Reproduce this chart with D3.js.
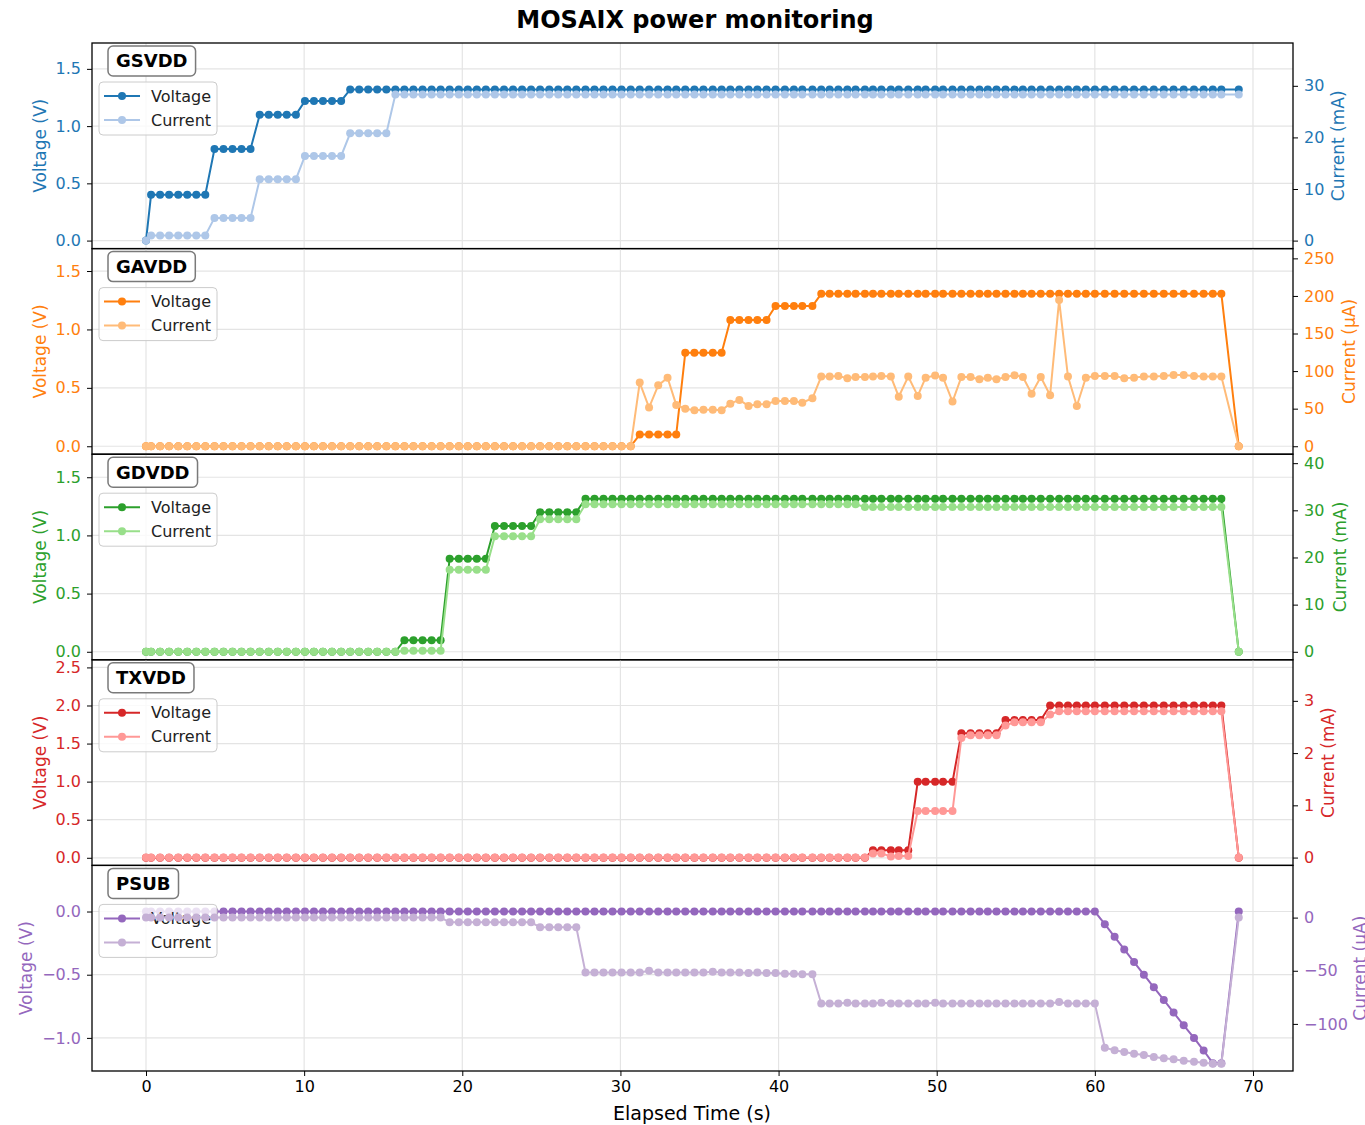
<!DOCTYPE html>
<html>
<head>
<meta charset="utf-8">
<script src="https://cdn.jsdelivr.net/npm/d3@7"></script>
<style>
  body { margin: 0; background: #fff; }
  svg { display: block; }
  text { font-family: "DejaVu Sans", sans-serif; }
</style>
</head>
<body>
<svg id="chart" width="1365" height="1125"></svg>
<script>
// Sample timestamps (s)
const times = [
  0, 0.32, 0.89, 1.46, 2.04, 2.61, 3.18, 3.75, 4.33, 4.90,
  5.47, 6.04, 6.61, 7.19, 7.76, 8.33, 8.90, 9.48, 10.05, 10.62,
  11.19, 11.76, 12.34, 12.91, 13.48, 14.05, 14.62, 15.20, 15.77, 16.34,
  16.91, 17.49, 18.06, 18.63, 19.20, 19.78, 20.35, 20.92, 21.49, 22.06,
  22.64, 23.21, 23.78, 24.35, 24.92, 25.50, 26.07, 26.64, 27.21, 27.79,
  28.36, 28.93, 29.50, 30.07, 30.65, 31.22, 31.81, 32.39, 32.98, 33.53,
  34.10, 34.68, 35.25, 35.84, 36.40, 36.95, 37.52, 38.10, 38.66, 39.24,
  39.81, 40.40, 40.97, 41.50, 42.14, 42.70, 43.23, 43.78, 44.35, 44.87,
  45.46, 45.97, 46.50, 47.10, 47.60, 48.20, 48.80, 49.30, 49.90, 50.40,
  51.00, 51.56, 52.14, 52.70, 53.23, 53.78, 54.35, 54.92, 55.45, 56.00,
  56.58, 57.17, 57.74, 58.30, 58.86, 59.43, 60.00, 60.63, 61.25, 61.86,
  62.48, 63.10, 63.73, 64.36, 64.98, 65.62, 66.27, 66.88, 67.46, 68.00,
  69.10
];

// GSVDD: voltage (V), current (mA)
const gsvddVoltage = [
  0, 0.4, 0.4, 0.4, 0.4, 0.4, 0.4, 0.4, 0.8, 0.8,
  0.8, 0.8, 0.8, 1.1, 1.1, 1.1, 1.1, 1.1, 1.22, 1.22,
  1.22, 1.22, 1.22, 1.32, 1.32, 1.32, 1.32, 1.32, 1.32, 1.32,
  1.32, 1.32, 1.32, 1.32, 1.32, 1.32, 1.32, 1.32, 1.32, 1.32,
  1.32, 1.32, 1.32, 1.32, 1.32, 1.32, 1.32, 1.32, 1.32, 1.32,
  1.32, 1.32, 1.32, 1.32, 1.32, 1.32, 1.32, 1.32, 1.32, 1.32,
  1.32, 1.32, 1.32, 1.32, 1.32, 1.32, 1.32, 1.32, 1.32, 1.32,
  1.32, 1.32, 1.32, 1.32, 1.32, 1.32, 1.32, 1.32, 1.32, 1.32,
  1.32, 1.32, 1.32, 1.32, 1.32, 1.32, 1.32, 1.32, 1.32, 1.32,
  1.32, 1.32, 1.32, 1.32, 1.32, 1.32, 1.32, 1.32, 1.32, 1.32,
  1.32, 1.32, 1.32, 1.32, 1.32, 1.32, 1.32, 1.32, 1.32, 1.32,
  1.32, 1.32, 1.32, 1.32, 1.32, 1.32, 1.32, 1.32, 1.32, 1.32,
  1.32
];
const gsvddCurrent = [
  0, 1.0, 1.0, 1.0, 1.0, 1.0, 1.0, 1.0, 4.4, 4.4,
  4.4, 4.4, 4.4, 11.9, 11.9, 11.9, 11.9, 11.9, 16.4, 16.4,
  16.4, 16.4, 16.4, 20.8, 20.8, 20.8, 20.8, 20.8, 28.3, 28.3,
  28.3, 28.3, 28.3, 28.3, 28.3, 28.3, 28.3, 28.3, 28.3, 28.3,
  28.3, 28.3, 28.3, 28.3, 28.3, 28.3, 28.3, 28.3, 28.3, 28.3,
  28.3, 28.3, 28.3, 28.3, 28.3, 28.3, 28.3, 28.3, 28.3, 28.3,
  28.3, 28.3, 28.3, 28.3, 28.3, 28.3, 28.3, 28.3, 28.3, 28.3,
  28.3, 28.3, 28.3, 28.3, 28.3, 28.3, 28.3, 28.3, 28.3, 28.3,
  28.3, 28.3, 28.3, 28.3, 28.3, 28.3, 28.3, 28.3, 28.3, 28.3,
  28.3, 28.3, 28.3, 28.3, 28.3, 28.3, 28.3, 28.3, 28.3, 28.3,
  28.3, 28.3, 28.3, 28.3, 28.3, 28.3, 28.3, 28.3, 28.3, 28.3,
  28.3, 28.3, 28.3, 28.3, 28.3, 28.3, 28.3, 28.3, 28.3, 28.3,
  28.3
];

// GAVDD: voltage (V), current (µA)
const gavddVoltage = [
  0, 0, 0, 0, 0, 0, 0, 0, 0, 0,
  0, 0, 0, 0, 0, 0, 0, 0, 0, 0,
  0, 0, 0, 0, 0, 0, 0, 0, 0, 0,
  0, 0, 0, 0, 0, 0, 0, 0, 0, 0,
  0, 0, 0, 0, 0, 0, 0, 0, 0, 0,
  0, 0, 0, 0, 0, 0.1, 0.1, 0.1, 0.1, 0.1,
  0.8, 0.8, 0.8, 0.8, 0.8, 1.08, 1.08, 1.08, 1.08, 1.08,
  1.2, 1.2, 1.2, 1.2, 1.2, 1.305, 1.305, 1.305, 1.305, 1.305,
  1.305, 1.305, 1.305, 1.305, 1.305, 1.305, 1.305, 1.305, 1.305, 1.305,
  1.305, 1.305, 1.305, 1.305, 1.305, 1.305, 1.305, 1.305, 1.305, 1.305,
  1.305, 1.305, 1.305, 1.305, 1.305, 1.305, 1.305, 1.305, 1.305, 1.305,
  1.305, 1.305, 1.305, 1.305, 1.305, 1.305, 1.305, 1.305, 1.305, 1.305,
  0
];
const gavddCurrent = [
  0, 0, 0, 0, 0, 0, 0, 0, 0, 0,
  0, 0, 0, 0, 0, 0, 0, 0, 0, 0,
  0, 0, 0, 0, 0, 0, 0, 0, 0, 0,
  0, 0, 0, 0, 0, 0, 0, 0, 0, 0,
  0, 0, 0, 0, 0, 0, 0, 0, 0, 0,
  0, 0, 0, 0, 0, 84.7, 51.4, 81.0, 91.3, 55.0,
  50.0, 48.0, 48.5, 48.5, 48.0, 56.7, 61.6, 53.6, 55.8, 55.8,
  60.3, 60.3, 60.3, 58.0, 63.8, 92.7, 92.7, 93.6, 90.5, 92.0,
  92.0, 92.7, 93.6, 92.7, 66.0, 92.7, 67.0, 91.3, 94.0, 91.3,
  59.4, 92.2, 92.2, 89.0, 91.0, 89.0, 92.2, 94.4, 92.2, 70.0,
  92.2, 68.0, 194.5, 92.7, 53.6, 91.3, 93.6, 93.6, 93.6, 90.5,
  91.3, 92.7, 92.7, 93.6, 94.9, 94.9, 93.6, 92.7, 92.7, 92.7,
  0
];

// GDVDD: voltage (V), current (mA)
const gdvddVoltage = [
  0, 0, 0, 0, 0, 0, 0, 0, 0, 0,
  0, 0, 0, 0, 0, 0, 0, 0, 0, 0,
  0, 0, 0, 0, 0, 0, 0, 0, 0, 0.1,
  0.1, 0.1, 0.1, 0.1, 0.8, 0.8, 0.8, 0.8, 0.8, 1.08,
  1.08, 1.08, 1.08, 1.08, 1.2, 1.2, 1.2, 1.2, 1.2, 1.316,
  1.316, 1.316, 1.316, 1.316, 1.316, 1.316, 1.316, 1.316, 1.316, 1.316,
  1.316, 1.316, 1.316, 1.316, 1.316, 1.316, 1.316, 1.316, 1.316, 1.316,
  1.316, 1.316, 1.316, 1.316, 1.316, 1.316, 1.316, 1.316, 1.316, 1.316,
  1.316, 1.316, 1.316, 1.316, 1.316, 1.316, 1.316, 1.316, 1.316, 1.316,
  1.316, 1.316, 1.316, 1.316, 1.316, 1.316, 1.316, 1.316, 1.316, 1.316,
  1.316, 1.316, 1.316, 1.316, 1.316, 1.316, 1.316, 1.316, 1.316, 1.316,
  1.316, 1.316, 1.316, 1.316, 1.316, 1.316, 1.316, 1.316, 1.316, 1.316,
  0
];
const gdvddCurrent = [
  0, 0, 0, 0, 0, 0, 0, 0, 0, 0,
  0, 0, 0, 0, 0, 0, 0, 0, 0, 0,
  0, 0, 0, 0, 0, 0, 0, 0, 0, 0.2,
  0.2, 0.2, 0.2, 0.2, 17.4, 17.4, 17.4, 17.4, 17.4, 24.5,
  24.5, 24.5, 24.5, 24.5, 28.1, 28.1, 28.1, 28.1, 28.1, 31.3,
  31.3, 31.3, 31.3, 31.3, 31.3, 31.3, 31.3, 31.3, 31.3, 31.3,
  31.3, 31.3, 31.3, 31.3, 31.3, 31.3, 31.3, 31.3, 31.3, 31.3,
  31.3, 31.3, 31.3, 31.3, 31.3, 31.3, 31.3, 31.3, 31.3, 31.3,
  30.7, 30.7, 30.7, 30.7, 30.7, 30.7, 30.7, 30.7, 30.7, 30.7,
  30.7, 30.7, 30.7, 30.7, 30.7, 30.7, 30.7, 30.7, 30.7, 30.7,
  30.7, 30.7, 30.7, 30.7, 30.7, 30.7, 30.7, 30.7, 30.7, 30.7,
  30.7, 30.7, 30.7, 30.7, 30.7, 30.7, 30.7, 30.7, 30.7, 30.7,
  0
];

// TXVDD: voltage (V), current (mA)
const txvddVoltage = [
  0, 0, 0, 0, 0, 0, 0, 0, 0, 0,
  0, 0, 0, 0, 0, 0, 0, 0, 0, 0,
  0, 0, 0, 0, 0, 0, 0, 0, 0, 0,
  0, 0, 0, 0, 0, 0, 0, 0, 0, 0,
  0, 0, 0, 0, 0, 0, 0, 0, 0, 0,
  0, 0, 0, 0, 0, 0, 0, 0, 0, 0,
  0, 0, 0, 0, 0, 0, 0, 0, 0, 0,
  0, 0, 0, 0, 0, 0, 0, 0, 0, 0,
  0, 0.1, 0.1, 0.1, 0.1, 0.1, 1.0, 1.0, 1.0, 1.0,
  1.0, 1.635, 1.635, 1.635, 1.635, 1.635, 1.81, 1.81, 1.81, 1.81,
  1.81, 2.0, 2.0, 2.0, 2.0, 2.0, 2.0, 2.0, 2.0, 2.0,
  2.0, 2.0, 2.0, 2.0, 2.0, 2.0, 2.0, 2.0, 2.0, 2.0,
  0
];
const txvddCurrent = [
  0, 0, 0, 0, 0, 0, 0, 0, 0, 0,
  0, 0, 0, 0, 0, 0, 0, 0, 0, 0,
  0, 0, 0, 0, 0, 0, 0, 0, 0, 0,
  0, 0, 0, 0, 0, 0, 0, 0, 0, 0,
  0, 0, 0, 0, 0, 0, 0, 0, 0, 0,
  0, 0, 0, 0, 0, 0, 0, 0, 0, 0,
  0, 0, 0, 0, 0, 0, 0, 0, 0, 0,
  0, 0, 0, 0, 0, 0, 0, 0, 0, 0,
  0, 0.08, 0.08, 0.02, 0.03, 0.03, 0.89, 0.89, 0.89, 0.89,
  0.89, 2.29, 2.34, 2.34, 2.34, 2.34, 2.53, 2.59, 2.59, 2.59,
  2.59, 2.74, 2.80, 2.80, 2.80, 2.80, 2.80, 2.80, 2.80, 2.80,
  2.80, 2.80, 2.80, 2.80, 2.80, 2.80, 2.80, 2.80, 2.80, 2.80,
  0
];

// PSUB: voltage (V), current (µA)
const psubVoltage = [
  0, 0, 0, 0, 0, 0, 0, 0, 0, 0,
  0, 0, 0, 0, 0, 0, 0, 0, 0, 0,
  0, 0, 0, 0, 0, 0, 0, 0, 0, 0,
  0, 0, 0, 0, 0, 0, 0, 0, 0, 0,
  0, 0, 0, 0, 0, 0, 0, 0, 0, 0,
  0, 0, 0, 0, 0, 0, 0, 0, 0, 0,
  0, 0, 0, 0, 0, 0, 0, 0, 0, 0,
  0, 0, 0, 0, 0, 0, 0, 0, 0, 0,
  0, 0, 0, 0, 0, 0, 0, 0, 0, 0,
  0, 0, 0, 0, 0, 0, 0, 0, 0, 0,
  0, 0, 0, 0, 0, 0, 0, -0.1, -0.2, -0.3,
  -0.4, -0.5, -0.6, -0.7, -0.8, -0.9, -1.0, -1.1, -1.2, -1.2,
  0
];
const psubCurrent = [
  0, 0, 0, 0, 0, 0, 0, 0, 0, 0,
  0, 0, 0, 0, 0, 0, 0, 0, 0, 0,
  0, 0, 0, 0, 0, 0, 0, 0, 0, 0,
  0, 0, 0, 0, -4.4, -4.4, -4.4, -4.4, -4.4, -4.4,
  -4.4, -4.4, -4.4, -4.4, -9.1, -9.1, -9.1, -9.1, -9.1, -51.6,
  -51.6, -51.6, -51.6, -51.6, -51.6, -51.6, -50.0, -51.6, -51.6, -51.6,
  -51.6, -51.6, -51.6, -51.0, -51.6, -51.6, -51.6, -52.2, -51.6, -52.2,
  -52.2, -52.8, -52.8, -53.2, -53.2, -80.8, -80.8, -80.8, -80.2, -80.8,
  -80.8, -80.8, -80.2, -80.8, -80.8, -80.8, -80.8, -80.8, -80.2, -80.8,
  -80.8, -80.8, -80.8, -80.8, -80.8, -80.8, -80.8, -80.8, -80.8, -80.8,
  -80.8, -80.8, -79.3, -80.8, -80.8, -80.8, -80.8, -122.4, -124.8, -126.4,
  -128.0, -129.2, -131.1, -132.3, -133.3, -134.6, -135.5, -136.5, -137.4, -137.4,
  0
];

// Rail names and axis tick values
const railNames = ["GSVDD", "GAVDD", "GDVDD", "TXVDD", "PSUB"];
const voltageTicks = [[0, 0.5, 1.0, 1.5], [0, 0.5, 1.0, 1.5], [0, 0.5, 1.0, 1.5], [0, 0.5, 1.0, 1.5, 2.0, 2.5], [-1.0, -0.5, 0]];
const currentTicks = [[0, 10, 20, 30], [0, 50, 100, 150, 200, 250], [0, 10, 20, 30, 40], [0, 1, 2, 3], [-100, -50, 0]];
const currentUnits = ["mA", "µA", "mA", "mA", "µA"];
const timeTicks = [0, 10, 20, 30, 40, 50, 60, 70];

const voltageSeries = [gsvddVoltage, gavddVoltage, gdvddVoltage, txvddVoltage, psubVoltage];
const currentSeries = [gsvddCurrent, gavddCurrent, gdvddCurrent, txvddCurrent, psubCurrent];

// Per-panel axis limits and styling
const voltageDomains = [[-0.07, 1.726], [-0.068, 1.692], [-0.069, 1.698], [-0.1, 2.6], [-1.262, 0.365]];
const currentDomains = [[-1.55, 38.3], [-10.6, 263], [-1.7, 41.9], [-0.15, 3.786], [-144.3, 49.1]];
const darkColors = ["#1f77b4", "#ff7f0e", "#2ca02c", "#d62728", "#9467bd"];
const lightColors = ["#aec7e8", "#ffbb78", "#98df8a", "#ff9896", "#c5b0d5"];
const leftLabelX = [40, 40, 40, 40, 26];
const rightLabelX = [1338, 1349, 1340, 1328, 1360];

const FONT = '"DejaVu Sans", sans-serif';
const DOT_R = 4;
const svg = d3.select("#chart");
const plotLeft = 92, plotRight = 1293, plotTop = 43, plotBottom = 1071;
const panelH = (plotBottom - plotTop) / railNames.length;

const x = d3.scaleLinear().domain([-3.415, 72.53]).range([plotLeft, plotRight]);

svg.append("rect").attr("width", 1365).attr("height", 1125).attr("fill", "#fff");

svg.append("text")
  .attr("x", 695).attr("y", 28)
  .attr("text-anchor", "middle")
  .attr("font-family", FONT).attr("font-weight", "bold").attr("font-size", 24)
  .attr("fill", "#000")
  .text("MOSAIX power monitoring");

const fmtV = d3.format(".1f");
const fmtI = d3.format("d");

railNames.forEach((name, p) => {
  const y0 = plotTop + p * panelH;
  const y1 = y0 + panelH;
  const dark = darkColors[p], light = lightColors[p];
  const yV = d3.scaleLinear().domain(voltageDomains[p]).range([y1, y0]);
  const yI = d3.scaleLinear().domain(currentDomains[p]).range([y1, y0]);
  const g = svg.append("g");

  const clipId = "clip-" + p;
  svg.append("clipPath").attr("id", clipId)
    .append("rect").attr("x", plotLeft).attr("y", y0)
    .attr("width", plotRight - plotLeft).attr("height", panelH);

  // grid
  const grid = g.append("g").attr("clip-path", `url(#${clipId})`);
  grid.selectAll(".vg").data(timeTicks).join("line")
    .attr("x1", d => x(d)).attr("x2", d => x(d))
    .attr("y1", y0).attr("y2", y1)
    .attr("stroke", "#e4e4e4").attr("stroke-width", 1.2);
  grid.selectAll(".hg").data(voltageTicks[p]).join("line")
    .attr("x1", plotLeft).attr("x2", plotRight)
    .attr("y1", d => yV(d)).attr("y2", d => yV(d))
    .attr("stroke", "#e4e4e4").attr("stroke-width", 1.2);

  const vData = times.map((t, k) => [t, voltageSeries[p][k]]);
  const iData = times.map((t, k) => [t, currentSeries[p][k]]);

  // voltage trace
  const vg = g.append("g").attr("clip-path", `url(#${clipId})`);
  vg.append("path").datum(vData)
    .attr("d", d3.line().x(d => x(d[0])).y(d => yV(d[1])))
    .attr("fill", "none").attr("stroke", dark).attr("stroke-width", 2);
  vg.selectAll("circle").data(vData).join("circle")
    .attr("cx", d => x(d[0])).attr("cy", d => yV(d[1])).attr("r", DOT_R)
    .attr("fill", dark);

  // legend
  const lg = g.append("g").attr("font-family", FONT).attr("font-size", 16);
  lg.append("rect")
    .attr("x", 99).attr("y", y0 + 39).attr("width", 118).attr("height", 53).attr("rx", 4)
    .attr("fill", "#fff").attr("fill-opacity", 0.8)
    .attr("stroke", "#cccccc").attr("stroke-width", 1);
  [["Voltage", dark, y0 + 53], ["Current", light, y0 + 77]].forEach(([label, col, ly]) => {
    lg.append("line").attr("x1", 104).attr("x2", 140).attr("y1", ly).attr("y2", ly)
      .attr("stroke", col).attr("stroke-width", 2);
    lg.append("circle").attr("cx", 122).attr("cy", ly).attr("r", DOT_R).attr("fill", col);
    lg.append("text").attr("x", 151).attr("y", ly).attr("dy", "0.35em")
      .attr("fill", "#222").text(label);
  });

  // current trace
  const ig = g.append("g").attr("clip-path", `url(#${clipId})`);
  ig.append("path").datum(iData)
    .attr("d", d3.line().x(d => x(d[0])).y(d => yI(d[1])))
    .attr("fill", "none").attr("stroke", light).attr("stroke-width", 2);
  ig.selectAll("circle").data(iData).join("circle")
    .attr("cx", d => x(d[0])).attr("cy", d => yI(d[1])).attr("r", DOT_R)
    .attr("fill", light);

  // rail name badge
  const badge = g.append("g");
  const bt = badge.append("text")
    .attr("y", y0 + 18).attr("dy", "0.35em")
    .attr("font-family", FONT).attr("font-weight", "bold").attr("font-size", 18)
    .attr("fill", "#000").text(name);
  const tw = bt.node().getComputedTextLength();
  const bw = tw + 16;
  bt.attr("x", 108 + bw / 2).attr("text-anchor", "middle");
  badge.insert("rect", "text")
    .attr("x", 108).attr("y", y0 + 3).attr("width", bw).attr("height", 30).attr("rx", 5)
    .attr("fill", "#fff").attr("stroke", "#7a7a7a").attr("stroke-width", 1.5);

  // frame
  g.append("rect").attr("x", plotLeft).attr("y", y0)
    .attr("width", plotRight - plotLeft).attr("height", panelH)
    .attr("fill", "none").attr("stroke", "#000").attr("stroke-width", 1.3);

  // left axis
  const la = g.append("g").attr("transform", `translate(${plotLeft},0)`)
    .call(d3.axisLeft(yV).tickValues(voltageTicks[p]).tickFormat(fmtV).tickSize(5).tickPadding(6));
  la.select(".domain").remove();
  la.attr("font-family", FONT).attr("font-size", 16);
  la.selectAll(".tick line").attr("stroke", "#000");
  la.selectAll(".tick text").attr("fill", dark);

  // right axis
  const ra = g.append("g").attr("transform", `translate(${plotRight},0)`)
    .call(d3.axisRight(yI).tickValues(currentTicks[p]).tickFormat(fmtI).tickSize(5).tickPadding(6));
  ra.select(".domain").remove();
  ra.attr("font-family", FONT).attr("font-size", 16);
  ra.selectAll(".tick line").attr("stroke", "#000");
  ra.selectAll(".tick text").attr("fill", dark);

  // axis titles
  const yc = (y0 + y1) / 2;
  g.append("text")
    .attr("transform", `translate(${leftLabelX[p]},${yc}) rotate(-90)`)
    .attr("text-anchor", "middle").attr("dy", "0.35em")
    .attr("font-family", FONT).attr("font-size", 17).attr("fill", dark)
    .text("Voltage (V)");
  g.append("text")
    .attr("transform", `translate(${rightLabelX[p]},${yc}) rotate(-90)`)
    .attr("text-anchor", "middle").attr("dy", "0.35em")
    .attr("font-family", FONT).attr("font-size", 17).attr("fill", dark)
    .text(`Current (${currentUnits[p]})`);

  if (p === railNames.length - 1) {
    const ba = g.append("g").attr("transform", `translate(0,${plotBottom})`)
      .call(d3.axisBottom(x).tickValues(timeTicks).tickFormat(fmtI).tickSize(5).tickPadding(5));
    ba.select(".domain").remove();
    ba.attr("font-family", FONT).attr("font-size", 16);
    ba.selectAll(".tick line").attr("stroke", "#000");
    ba.selectAll(".tick text").attr("fill", "#000");
    g.append("text")
      .attr("x", 692).attr("y", 1120)
      .attr("text-anchor", "middle")
      .attr("font-family", FONT).attr("font-size", 19).attr("fill", "#000")
      .text("Elapsed Time (s)");
  }
});
</script>
</body>
</html>
